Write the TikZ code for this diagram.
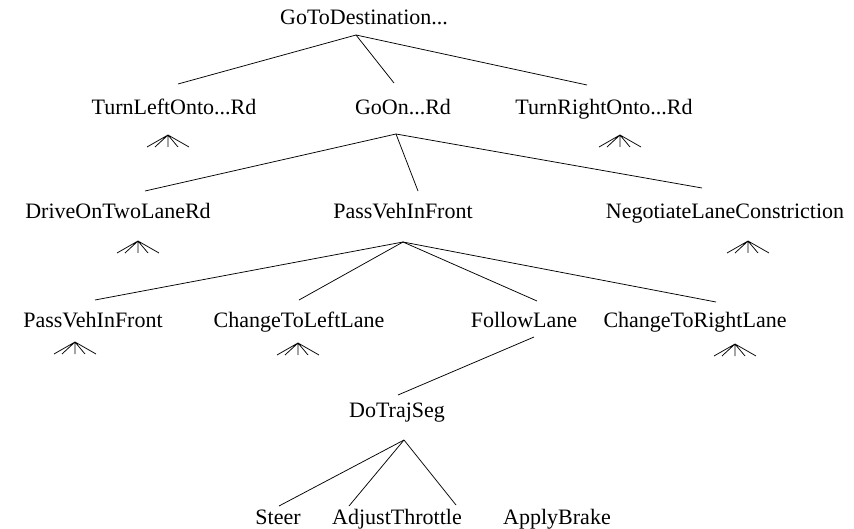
\documentclass[tikz,border=0pt]{standalone}
\usepackage{fontspec}
\setmainfont{Liberation Serif}

\tikzset{every picture/.style={line width=0.75pt}}
\tikzset{goal/.style={inner sep=0pt, anchor=base, font=\fontsize{22}{26}\selectfont}}
\tikzset{fan/.pic={\draw (0,0) -- (-21,12) (0,0) -- (-13,12) (0,0) -- (0,12) (0,0) -- (10,12) (0,0) -- (21,12);}}

\begin{document}
\begin{tikzpicture}[x=1pt,y=-1pt]
\useasboundingbox (0,0) rectangle (854,529);
% level 0
\node[goal] (goto) at (364,25) {GoToDestination...};
\coordinate (goto-s) at (356,35);
% level 1
\node[goal] (tleft) at (174,115) {TurnLeftOnto...Rd};
\node[goal] (goon) at (403,115) {GoOn...Rd};
\node[goal] (tright) at (604,115) {TurnRightOnto...Rd};
\coordinate (tleft-n) at (178,84);
\coordinate (goon-n) at (394,83);
\coordinate (tright-n) at (587,85);
\coordinate (goon-s) at (396,134);
\draw (goto-s) -- (tleft-n);
\draw (goto-s) -- (goon-n);
\draw (goto-s) -- (tright-n);
\pic at (168,135) {fan};
\pic at (620,135) {fan};
% level 2
\node[goal] (drive) at (118,219) {DriveOnTwoLaneRd};
\node[goal] (pass) at (403,219) {PassVehInFront};
\node[goal] (negot) at (725,219) {NegotiateLaneConstriction};
\coordinate (drive-n) at (145,191);
\coordinate (pass-n) at (418,191);
\coordinate (negot-n) at (702,188);
\coordinate (pass-s) at (403,242);
\draw (goon-s) -- (drive-n);
\draw (goon-s) -- (pass-n);
\draw (goon-s) -- (negot-n);
\pic at (138,241) {fan};
\pic at (748,241) {fan};
% level 3
\node[goal] (pass2) at (93,327) {PassVehInFront};
\node[goal] (cleft) at (299,327) {ChangeToLeftLane};
\node[goal] (follow) at (524,327) {FollowLane};
\node[goal] (cright) at (695,327) {ChangeToRightLane};
\coordinate (pass2-n) at (95,300);
\coordinate (cleft-n) at (299,300);
\coordinate (follow-n) at (537,301);
\coordinate (cright-n) at (716,302);
\coordinate (follow-s) at (534,337);
\draw (pass-s) -- (pass2-n);
\draw (pass-s) -- (cleft-n);
\draw (pass-s) -- (follow-n);
\draw (pass-s) -- (cright-n);
\pic at (75,342) {fan};
\pic at (298,343) {fan};
\pic at (735,344) {fan};
% trajectory segment
\node[goal] (traj) at (397,417) {DoTrajSeg};
\coordinate (traj-n) at (398,395);
\coordinate (traj-s) at (404,440);
\draw (follow-s) -- (traj-n);
% actions
\node[goal] (steer) at (278,524) {Steer};
\node[goal] (thr) at (397,524) {AdjustThrottle};
\node[goal] (brake) at (557,524) {ApplyBrake};
\coordinate (steer-n) at (279,506);
\coordinate (thr-n) at (349,506);
\coordinate (brake-n) at (456,505);
\draw (traj-s) -- (steer-n);
\draw (traj-s) -- (thr-n);
\draw (traj-s) -- (brake-n);
\end{tikzpicture}
\end{document}
